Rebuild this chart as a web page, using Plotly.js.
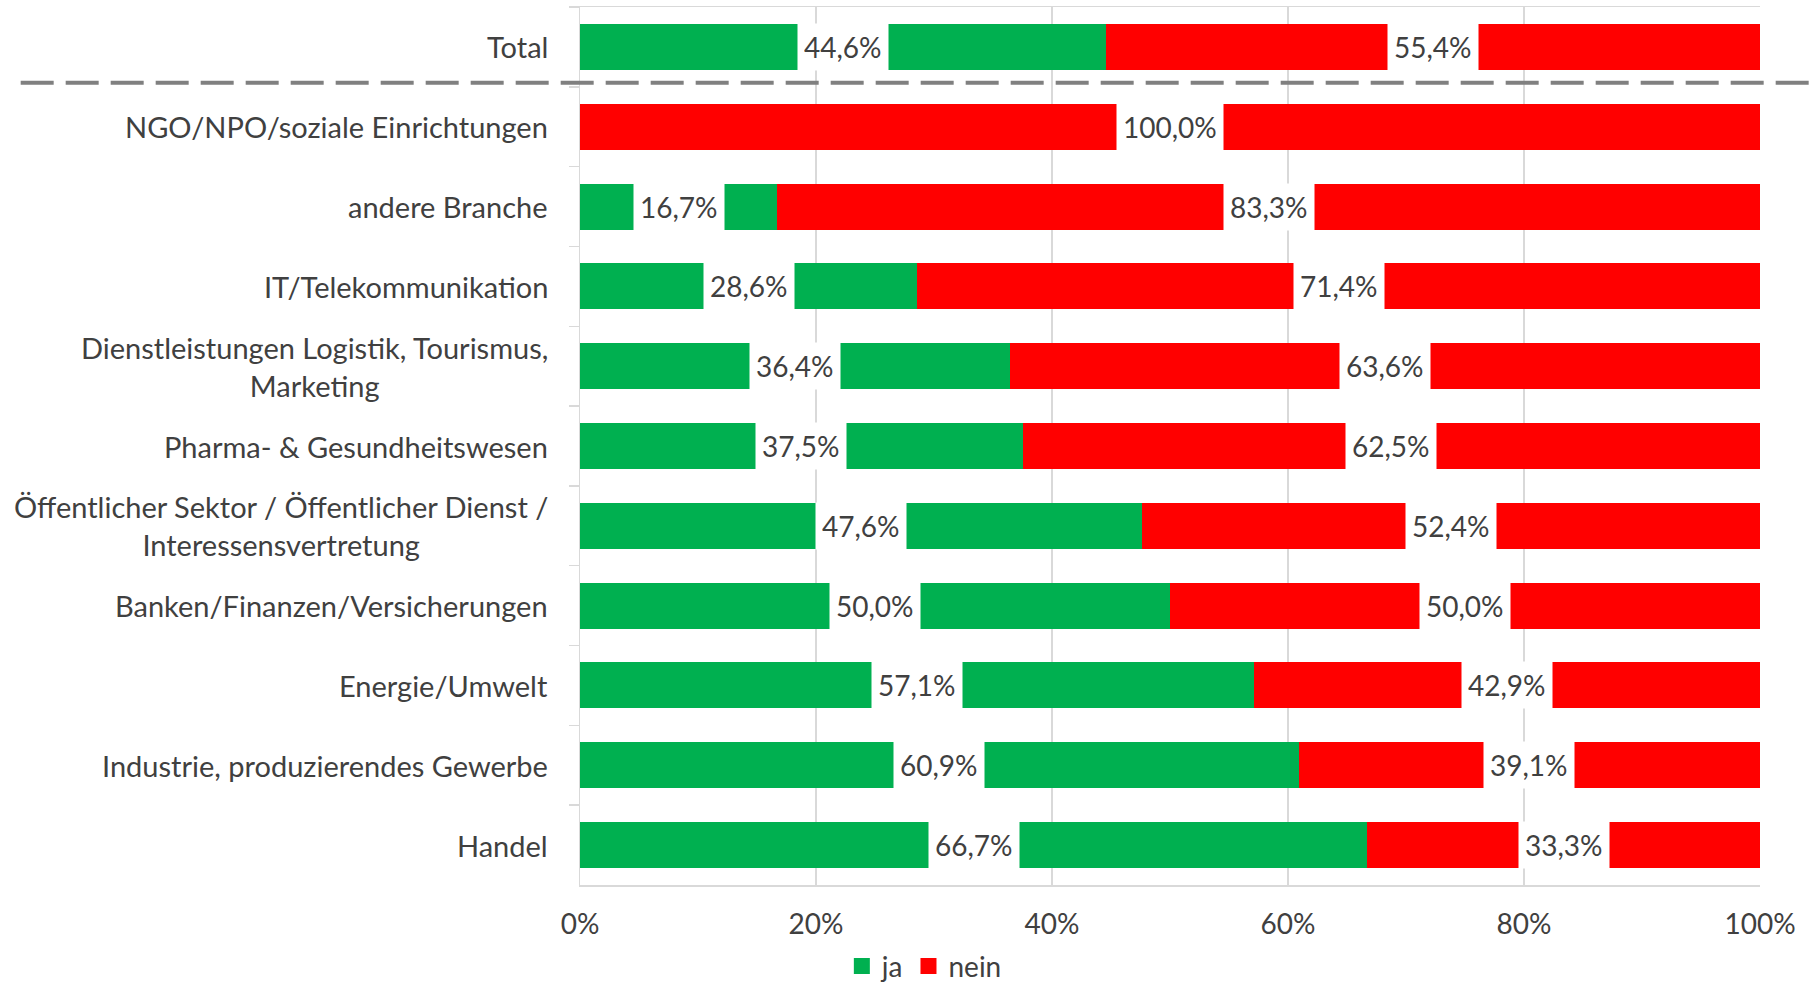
<!DOCTYPE html>
<html>
<head>
<meta charset="utf-8">
<script src="https://cdn.plot.ly/plotly-3.0.1.min.js"></script>
<style>html,body{margin:0;padding:0;background:#fff;}#chart{width:1816px;height:986px;}</style>
</head>
<body>
<div id="chart"></div>
<script>
const categories = [
  "Total",
  "NGO/NPO/soziale Einrichtungen",
  "andere Branche",
  "IT/Telekommunikation",
  "Dienstleistungen Logistik, Tourismus,<br>Marketing",
  "Pharma- & Gesundheitswesen",
  "Öffentlicher Sektor / Öffentlicher Dienst /<br>Interessensvertretung",
  "Banken/Finanzen/Versicherungen",
  "Energie/Umwelt",
  "Industrie, produzierendes Gewerbe",
  "Handel"
];
const jaValues   = [44.6, 0.0, 16.7, 28.6, 36.4, 37.5, 47.6, 50.0, 57.1, 60.9, 66.7];
const neinValues = [55.4, 100.0, 83.3, 71.4, 63.6, 62.5, 52.4, 50.0, 42.9, 39.1, 33.3];
const seriesNames = ["ja", "nein"];
const xTickVals = [0, 20, 40, 60, 80, 100];
const xTickText = ["0%", "20%", "40%", "60%", "80%", "100%"];

const FONT = "Lato, 'Open Sans', sans-serif";
const TXT = "#404040";
const FS = 28;
const CAT_FS = 29;
const GREEN = "#00B050";
const RED = "#FF0000";
const GRID = "#d9d9d9";

const fmt = v => v.toFixed(1).replace(".", ",") + "%";

const traces = [
  {
    type: "bar", orientation: "h", name: seriesNames[0], showlegend: false,
    y: categories, x: jaValues,
    marker: {color: GREEN, line: {width: 0}},
    hoverinfo: "skip"
  },
  {
    type: "bar", orientation: "h", name: seriesNames[1], showlegend: false,
    y: categories, x: neinValues,
    marker: {color: RED, line: {width: 0}},
    hoverinfo: "skip"
  },
  // legend entries with larger square swatches
  {
    type: "scatter", mode: "markers", name: seriesNames[0],
    x: [null], y: [null], marker: {symbol: "square", size: 18, color: GREEN},
    hoverinfo: "skip"
  },
  {
    type: "scatter", mode: "markers", name: seriesNames[1],
    x: [null], y: [null], marker: {symbol: "square", size: 18, color: RED},
    hoverinfo: "skip"
  }
];

const annotations = [];
categories.forEach((c, i) => {
  annotations.push({
    xref: "paper", yref: "y", x: 0, y: c,
    xanchor: "right", yanchor: "middle", xshift: -30,
    text: c, showarrow: false, align: "center",
    font: {family: FONT, size: CAT_FS, color: TXT}
  });
  if (jaValues[i] > 0) {
    annotations.push({
      xref: "x", yref: "y", x: jaValues[i] / 2, y: c,
      text: fmt(jaValues[i]), showarrow: false,
      bgcolor: "#ffffff", borderpad: 6, height: 34,
      font: {family: FONT, size: FS, color: TXT}
    });
  }
  if (neinValues[i] > 0) {
    annotations.push({
      xref: "x", yref: "y", x: jaValues[i] + neinValues[i] / 2, y: c,
      text: fmt(neinValues[i]), showarrow: false,
      bgcolor: "#ffffff", borderpad: 6, height: 34,
      font: {family: FONT, size: FS, color: TXT}
    });
  }
});

const layout = {
  width: 1816, height: 986,
  margin: {l: 580, r: 56, t: 7, b: 101, pad: 0},
  paper_bgcolor: "#ffffff", plot_bgcolor: "#ffffff",
  barmode: "stack", bargap: 0.423,
  font: {family: FONT, size: FS, color: TXT},
  xaxis: {
    range: [0, 100], tickvals: xTickVals, ticktext: xTickText,
    showgrid: true, gridcolor: GRID, gridwidth: 1.5,
    showline: true, mirror: true, linecolor: GRID, linewidth: 1.5,
    zeroline: false, ticks: "", ticklabelstandoff: 14,
    tickfont: {family: FONT, size: FS, color: TXT}, fixedrange: true
  },
  yaxis: {
    type: "category", categoryarray: categories, categoryorder: "array",
    range: [10.5, -0.5], showticklabels: false,
    ticks: "outside", tickson: "boundaries", ticklen: 10, tickcolor: GRID, tickwidth: 1.5,
    showline: true, linecolor: GRID, linewidth: 1.5,
    showgrid: false, zeroline: false, fixedrange: true
  },
  legend: {
    orientation: "h", xref: "container", yref: "container",
    x: 0.509, xanchor: "center", y: 0.02, yanchor: "middle",
    font: {family: FONT, size: FS, color: TXT},
    traceorder: "normal", itemwidth: 30, bgcolor: "rgba(0,0,0,0)"
  },
  shapes: [{
    type: "line", xref: "paper", yref: "y",
    x0: -0.474, x1: 1.06, y0: 0.45, y1: 0.45,
    line: {color: "#808080", width: 4, dash: "33px,12px"},
    layer: "above"
  }],
  annotations: annotations
};

Plotly.newPlot("chart", traces, layout, {displayModeBar: false, staticPlot: true});
</script>
</body>
</html>
